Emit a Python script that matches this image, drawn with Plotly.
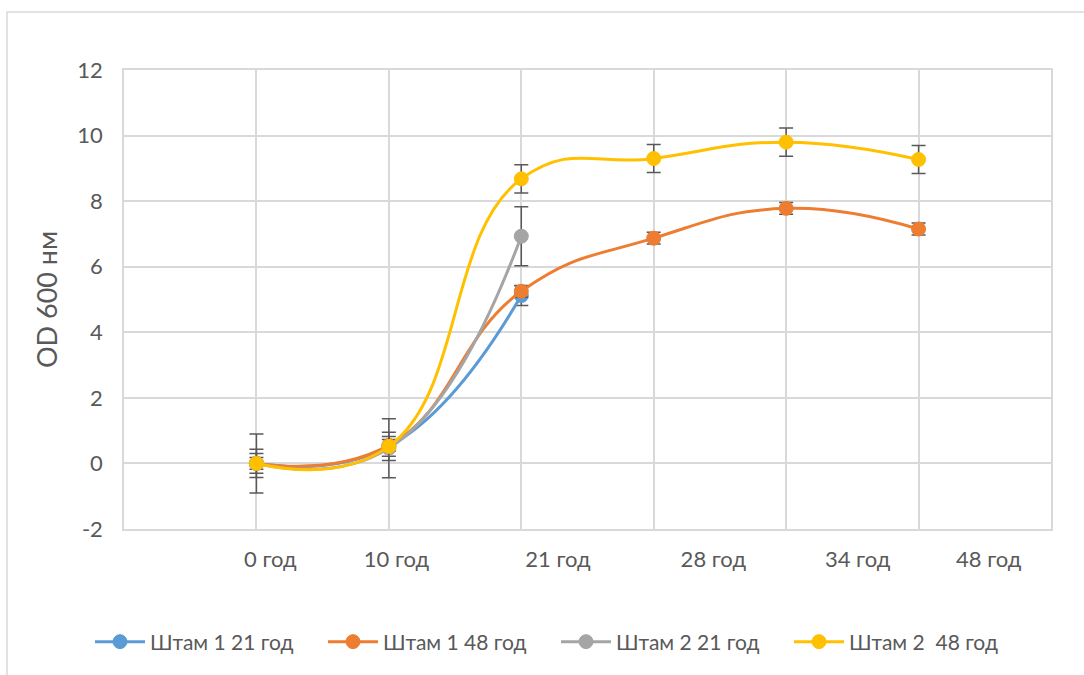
import plotly.graph_objects as go

# ---- data ----
time_labels = ["0 год", "10 год", "21 год", "28 год", "34 год", "48 год"]
x_points = [1, 2, 3, 4, 5, 6]
y_ticks = [-2, 0, 2, 4, 6, 8, 10, 12]

series_names = ["Штам 1 21 год", "Штам 1 48 год", "Штам 2 21 год", "Штам 2\u00a0 48 год"]
strain1_21 = [0.0, 0.52, 5.12]
strain1_48 = [0.0, 0.55, 5.25, 6.87, 7.78, 7.15]
strain2_21 = [0.0, 0.46, 6.93]
strain2_48 = [0.0, 0.52, 8.68, 9.30, 9.80, 9.27]

err1_21 = [0.3, 0.3, 0.3]
err1_48 = [0.18, 0.18, 0.18, 0.18, 0.18, 0.18]
err2_21 = [0.9, 0.9, 0.9]
err2_48 = [0.43, 0.43, 0.43, 0.43, 0.43, 0.43]

# ---- style ----
colors = ["#5B9BD5", "#ED7D31", "#A5A5A5", "#FFC000"]
label_x = [1.105, 2.058, 3.277, 4.45, 5.54, 6.53]  # where the time labels sit
grid = "#D9D9D9"
txt = "#595959"
FONT = "Lato, Carlito, Calibri, sans-serif"

W, H = 1084, 675
L, R, T, B = 124, 33, 70, 146
pw, ph = W - L - R, H - T - B

def px2x(p):
    return (p - L) / pw

def py2y(p):
    return (H - B - p) / ph

fig = go.Figure()
all_vals = [strain1_21, strain1_48, strain2_21, strain2_48]
all_errs = [err1_21, err1_48, err2_21, err2_48]
for name, vals, errs, c in zip(series_names, all_vals, all_errs, colors):
    fig.add_trace(go.Scatter(
        x=x_points[:len(vals)], y=vals, name=name, mode="lines+markers",
        line=dict(color=c, width=3, shape="spline", smoothing=1.3),
        marker=dict(color=c, size=14, line=dict(color=c, width=1)),
        error_y=dict(type="data", array=errs, visible=True, color=txt,
                     thickness=1.5, width=7),
    ))

fig.update_layout(
    width=W, height=H,
    margin=dict(l=L, r=R, t=T, b=B, autoexpand=False),
    paper_bgcolor="white", plot_bgcolor="white",
    font=dict(family=FONT, size=20, color=txt),
    showlegend=True,
    legend=dict(orientation="h", x=px2x(90), xanchor="left",
                y=py2y(642), yanchor="middle",
                font=dict(size=21, color=txt), itemwidth=50,
                entrywidth=168, entrywidthmode="pixels"),
    xaxis=dict(range=[0, 7], tickmode="array", tickvals=label_x, ticktext=time_labels,
               showgrid=False, zeroline=False, ticks="", automargin=False,
               ticklabelstandoff=10,
               minor=dict(tickmode="linear", tick0=0, dtick=1, showgrid=True,
                          gridcolor=grid, gridwidth=1.5, ticks=""),
               showline=True, mirror=True, linecolor=grid, linewidth=1.5,
               tickfont=dict(size=22, color=txt)),
    yaxis=dict(range=[-2, 12], tickmode="array", tickvals=y_ticks,
               ticktext=[str(v) for v in y_ticks],
               showgrid=True, gridcolor=grid,
               gridwidth=1.5, zeroline=False, ticks="", ticklabelstandoff=15,
               automargin=False,
               showline=True, mirror=True, linecolor=grid, linewidth=1.5,
               tickfont=dict(size=22, color=txt),
               title=dict(text="OD 600 нм", font=dict(size=27, color=txt), standoff=12)),
    shapes=[dict(type="rect", xref="paper", yref="paper",
                 x0=px2x(7), x1=px2x(1100), y0=py2y(700), y1=py2y(12),
                 line=dict(color=grid, width=1.5), layer="below")],
)

fig.write_html("out.html", config={"displayModeBar": False},
               post_script="document.body.style.margin='0px';document.body.style.overflow='hidden';")
